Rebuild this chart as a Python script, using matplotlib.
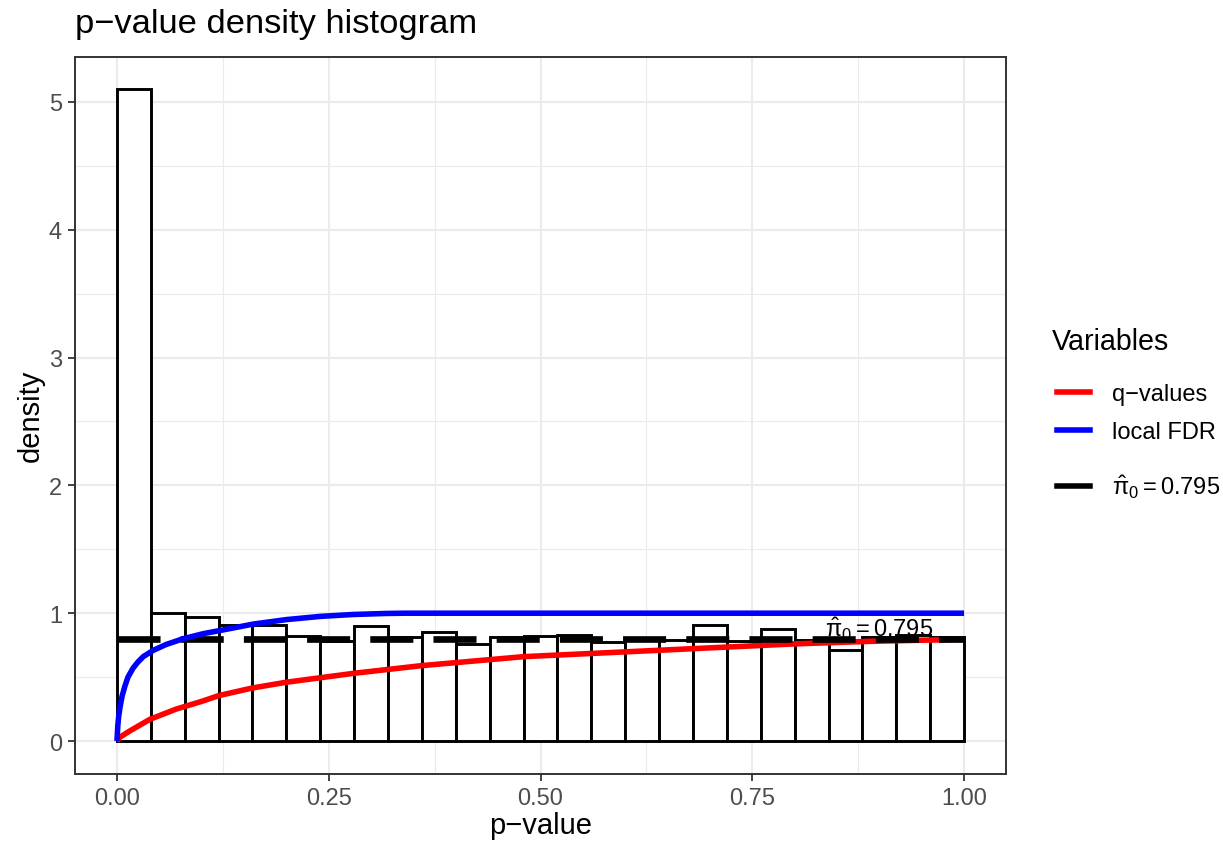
import matplotlib
matplotlib.use('Agg')
import matplotlib.pyplot as plt
from matplotlib.lines import Line2D
import numpy as np

# histogram (density), 25 bins of width 0.04 on [0, 1]
bin_width = 0.04
density = [5.10, 1.00, 0.97, 0.91, 0.91, 0.82, 0.78, 0.90, 0.81, 0.85,
           0.76, 0.81, 0.82, 0.83, 0.775, 0.80, 0.79, 0.91, 0.78, 0.88,
           0.79, 0.71, 0.81, 0.83, 0.81]

# q-values curve
q_p = [0, 0.0035, 0.0155, 0.039, 0.07, 0.10, 0.12, 0.16, 0.20, 0.24, 0.28,
       0.32, 0.36, 0.48, 0.64, 0.72, 0.80, 0.89, 0.96, 1.0]
q_val = [0, 0.03, 0.08, 0.17, 0.25, 0.31, 0.355, 0.415, 0.46, 0.495, 0.53,
         0.56, 0.59, 0.66, 0.71, 0.735, 0.76, 0.78, 0.79, 0.795]

# local FDR curve
lfdr_p = [0, 0.001, 0.002, 0.0035, 0.006, 0.0094, 0.013, 0.019, 0.025, 0.031,
          0.043, 0.058, 0.078, 0.102, 0.122, 0.161, 0.20, 0.24, 0.279,
          0.318, 0.34, 1.0]
lfdr_val = [0, 0.12, 0.19, 0.26, 0.35, 0.43, 0.50, 0.57, 0.62, 0.66,
            0.71, 0.755, 0.80, 0.84, 0.865, 0.915, 0.95, 0.975, 0.99,
            0.998, 1.0, 1.0]

pi0 = 0.795
pi0_label = r'$\hat{\pi}_0 = 0.795$'

plt.rcParams['font.family'] = ['Liberation Sans', 'DejaVu Sans']
plt.rcParams['mathtext.fontset'] = 'custom'
plt.rcParams['mathtext.rm'] = 'Liberation Sans'
plt.rcParams['mathtext.it'] = 'Liberation Sans'
plt.rcParams['mathtext.bf'] = 'Liberation Sans:bold'
plt.rcParams['lines.scale_dashes'] = False

W, H = 1223, 845
fig = plt.figure(figsize=(W / 100, H / 100), dpi=100)
ax = fig.add_axes([74.6 / W, 1 - 774.6 / H, 931.8 / W, 717 / H])

# grid like theme_bw
ax.set_xticks([0, 0.25, 0.5, 0.75, 1.0])
ax.set_xticklabels(['0.00', '0.25', '0.50', '0.75', '1.00'])
ax.set_xticks([0.125, 0.375, 0.625, 0.875], minor=True)
ax.set_yticks([0, 1, 2, 3, 4, 5])
ax.set_yticks([0.5, 1.5, 2.5, 3.5, 4.5], minor=True)
ax.grid(True, which='major', color='#EBEBEB', lw=1.5, zorder=0)
ax.grid(True, which='minor', color='#EBEBEB', lw=0.8, zorder=0)
ax.set_axisbelow(True)

left = np.arange(len(density)) * bin_width
ax.bar(left, density, width=bin_width, align='edge', facecolor='white',
       edgecolor='black', linewidth=2.1, zorder=2)

ax.plot(q_p, q_val, color='#FF0000', lw=4, zorder=3, solid_capstyle='butt')
ax.plot([0, 1], [pi0, pi0], color='black', lw=4.8, dashes=(31, 14.5),
        dash_capstyle='butt', zorder=4)
ax.plot(lfdr_p, lfdr_val, color='#0000FF', lw=4, zorder=5,
        solid_capstyle='butt', solid_joinstyle='round')

ax.text(0.9, 0.823, pi0_label, ha='center', va='baseline', fontsize=17,
        color='black', zorder=6)

ax.set_xlim(-0.05, 1.05)
ax.set_ylim(-0.255, 5.355)

for s in ax.spines.values():
    s.set_color('#333333')
    s.set_linewidth(1.4)
ax.tick_params(which='major', length=5, width=1.3, color='#333333',
               labelcolor='#4D4D4D', labelsize=17)
ax.tick_params(axis='x', pad=5)
ax.tick_params(axis='y', pad=4)
ax.tick_params(which='minor', length=0)

ax.set_xlabel('p\u2212value', fontsize=21, labelpad=1)
ax.set_ylabel('density', fontsize=21, labelpad=3)
fig.text(75 / W, 1 - 24 / H, 'p\u2212value density histogram', fontsize=24.8,
         ha='left', va='center')

# legend: title, two curve keys, and the pi0 key (taller row)
fig.text(1052 / W, 1 - 342 / H, 'Variables', fontsize=20.6, ha='left',
         va='center')
handles = [Line2D([], [], color='#FF0000', lw=4),
           Line2D([], [], color='#0000FF', lw=4),
           Line2D([], [], color='black', lw=4)]
labels = ['q\u2212values', 'local FDR', pi0_label]
leg_kw = dict(loc='upper left', frameon=False, fontsize=17, handlelength=1.4,
              handletextpad=0.93, labelspacing=0.68, borderpad=0,
              borderaxespad=0)
fig.legend(handles[:2], labels[:2], bbox_to_anchor=(1057 / W, 1 - 384 / H),
           **leg_kw)
fig.legend(handles[2:], labels[2:], bbox_to_anchor=(1057 / W, 1 - 474 / H),
           **leg_kw)

fig.savefig('out.png', dpi=100)
